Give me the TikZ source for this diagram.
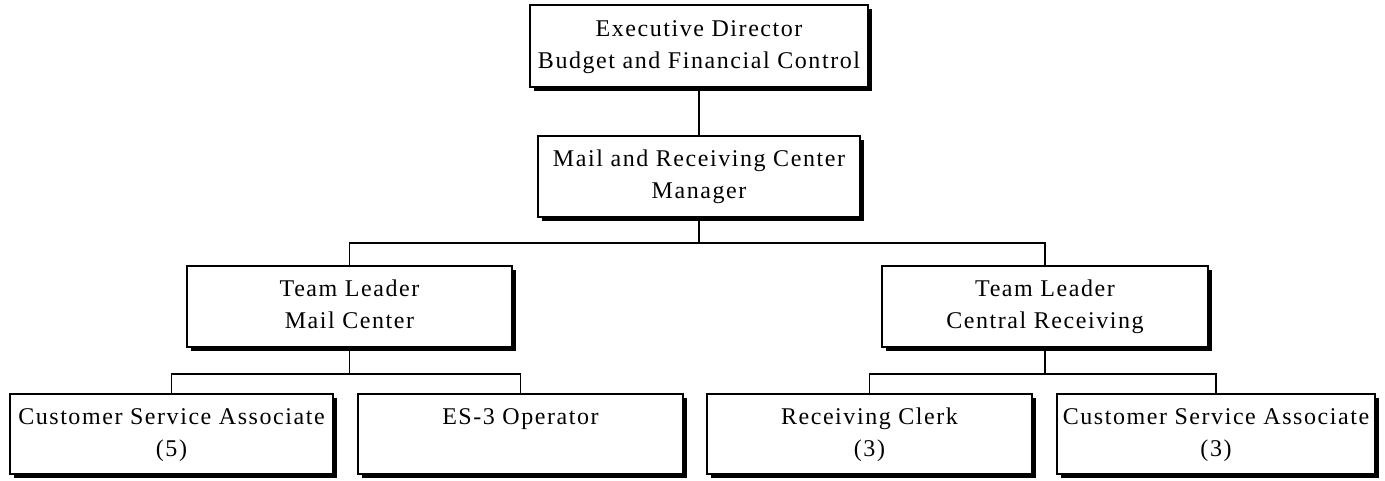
\documentclass[tikz,border=0pt]{standalone}
\usepackage{fontspec}
\setmainfont{Liberation Serif}[LetterSpace=6.5]
\usetikzlibrary{shadows}
\begin{document}
\begin{tikzpicture}[x=1pt,y=-1pt,
  orgbox/.style={draw=black, line width=1.6pt, fill=white, align=center,
    inner sep=0pt, font=\fontsize{24}{32}\selectfont,
    drop shadow={shadow xshift=4pt, shadow yshift=-4pt, fill=black, opacity=1}},
  conn/.style={line width=1.6pt}]
\useasboundingbox (0,0) rectangle (1385,481);
\node[orgbox, minimum width=338pt, minimum height=82pt] (exec) at (699,46) {\strut Executive Director\\\strut Budget and Financial Control};
\node[orgbox, minimum width=322pt, minimum height=81pt] (mgr) at (699,176.5) {\strut Mail and Receiving Center\\\strut Manager};
\node[orgbox, minimum width=325pt, minimum height=81pt] (tlL) at (349.5,306.5) {\strut Team Leader\\\strut Mail Center};
\node[orgbox, minimum width=326pt, minimum height=81pt] (tlR) at (1045,306.5) {\strut Team Leader\\\strut Central Receiving};
\node[orgbox, minimum width=323pt, minimum height=80pt] (b1) at (171.5,434) {\strut Customer Service Associate\\\strut (5)};
\node[orgbox, minimum width=325pt, minimum height=80pt] (b2) at (520.5,434) {\strut ES-3 Operator\\\strut};
\node[orgbox, minimum width=325pt, minimum height=80pt] (b3) at (869.5,434) {\strut Receiving Clerk\\\strut (3)};
\node[orgbox, minimum width=318pt, minimum height=80pt] (b4) at (1216,434) {\strut Customer Service Associate\\\strut (3)};
\coordinate (j1) at (699,243);
\coordinate (jL) at (349.5,374);
\coordinate (jR) at (1045,374);
\draw[conn] (exec.south) -- (mgr.north);
\draw[conn] (mgr.south) -- (j1);
\draw[conn] (tlL.north) |- (j1) -| (tlR.north);
\draw[conn] (tlL.south) -- (jL);
\draw[conn] (b1.north) |- (jL) -| (b2.north);
\draw[conn] (tlR.south) -- (jR);
\draw[conn] (b3.north) |- (jR) -| (b4.north);
\end{tikzpicture}
\end{document}
